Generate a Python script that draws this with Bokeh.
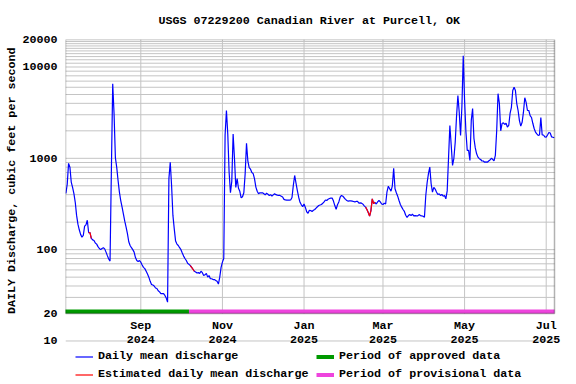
import numpy as np
import pandas as pd
from bokeh.plotting import figure
from bokeh.models import (Range1d, FixedTicker, CustomJSTickFormatter, BoxAnnotation,
                          Legend, LegendItem, ColumnDataSource, Title)
from bokeh.embed import file_html
from bokeh.resources import INLINE

# ---------------- data ----------------
TITLE = "USGS 07229200 Canadian River at Purcell, OK"
Y_LABEL = "DAILY Discharge, cubic feet per second"
START_DATE = "2024-07-07"   # first daily value

# daily mean discharge, cfs, one value per day from START_DATE
discharge = [
    412, 520, 880, 800, 550, 480, 410, 330, 237, 190,
    165, 147, 137, 143, 181, 187, 210, 154, 154, 133,
    128, 126, 118, 115, 108, 103, 100, 103, 105, 102,
    94, 86, 79, 75, 740, 6545, 3100, 1015, 795, 572,
    427, 345, 292, 245, 205, 176, 150, 122, 111, 105,
    100, 94, 82, 76, 74, 76, 73, 68, 64, 62,
    58, 54, 50, 45, 41.5, 41, 40, 38, 37.5, 35.5,
    34.5, 33, 33, 33, 31.5, 29.5, 26.6, 600, 906, 504,
    237, 169, 124, 115, 111, 105, 100, 92, 85, 80,
    76, 71, 69, 67, 64, 61, 58, 57, 55.5, 56,
    55, 58, 56, 52, 53, 55, 50, 52, 48, 48,
    47, 47, 46, 45, 42, 50, 64, 73, 80, 1800,
    3340, 1850, 705, 420, 560, 1850, 1000, 480, 600, 470,
    435, 370, 380, 420, 680, 1460, 940, 790, 760, 700,
    680, 596, 484, 436, 410, 420, 418, 420, 410, 398,
    415, 405, 392, 400, 385, 398, 410, 400, 395, 392,
    392, 385, 378, 355, 350, 348, 348, 348, 350, 372,
    505, 649, 535, 444, 375, 330, 310, 296, 316, 290,
    260, 250, 270, 268, 262, 270, 275, 285, 295, 304,
    308, 312, 322, 333, 350, 345, 357, 363, 367, 367,
    340, 304, 277, 310, 333, 375, 392, 385, 370, 355,
    345, 340, 342, 342, 340, 337, 333, 337, 337, 323,
    325, 323, 315, 302, 292, 275, 255, 233, 268, 360,
    320, 330, 316, 333, 345, 333, 316, 312, 322, 316,
    430, 495, 464, 437, 500, 780, 464, 420, 385, 345,
    312, 292, 275, 262, 238, 226, 236, 242, 236, 245,
    234, 236, 234, 234, 242, 236, 234, 232, 226, 392,
    540, 680, 800, 527, 427, 480, 460, 427, 402, 408,
    392, 402, 385, 392, 360, 440, 1000, 2290, 1400, 835,
    1000, 1500, 2900, 4880, 3200, 1780, 3700, 13300, 4300, 1950,
    1220, 1220, 950, 2600, 3500, 1650, 1300, 1120, 1030, 990,
    970, 935, 935, 906, 915, 906, 935, 960, 1000, 975,
    935, 1080, 2000, 5100, 4000, 2000, 2400, 2450, 2350, 2420,
    2200, 2290, 3100, 3620, 5530, 6010, 5530, 3980, 3340, 2590,
    2250, 2480, 3200, 4610, 4090, 3340, 3340, 2940, 2800, 2420,
    2120, 1940, 1850, 1780, 1800, 2800, 1800, 1800, 1720, 1700,
    1800, 1920, 1890, 1720, 1700, 1680,
]
# day indices (from START_DATE) whose values are estimated
estimated_days = [17, 18, 19, 93, 94, 95, 96, 224, 225, 226, 227, 228, 229, 230, 231]

approved_period = ("2024-07-06", "2024-10-07")
provisional_period = ("2024-10-07", "2025-07-07")

x_tick_dates = ["2024-09-01", "2024-11-01", "2025-01-01", "2025-03-01", "2025-05-01", "2025-07-01"]
y_label_ticks = [10, 20, 100, 1000, 10000, 20000]

# ---------------- style / layout ----------------
FONT = "Liberation Mono"
FS = "11.7px"
GRID = "#c4c4c4"
BAR_LEVEL = 21.0
Y_BOTTOM = 3.338     # frame continues below the chart box to hold the legend
Y_TOP = 20000
BOX_BOTTOM = 20

X_START = pd.Timestamp(START_DATE) - pd.Timedelta(hours=7)
BOX_RIGHT = pd.Timestamp("2025-07-07") + pd.Timedelta(hours=5)
X_END = X_START + (BOX_RIGHT - X_START) * (511.0 / 489.0)   # room right of box for tick labels

dates = pd.date_range(START_DATE, periods=len(discharge), freq="D")
q = np.array(discharge, dtype=float)
est = np.full(len(q), np.nan)
est[estimated_days] = q[estimated_days]
src = ColumnDataSource(dict(date=dates, q=q, est=est))

y_grid_values = [10]
for dec in (10, 100, 1000):
    for k in range(1, 10):
        v = k * dec
        if v > 20:
            y_grid_values.append(v)
y_grid_values += [k * 1000 for k in range(10, 20)]

p = figure(width=576, height=384, x_axis_type="datetime", y_axis_type="log",
           x_range=Range1d(X_START, X_END), y_range=Range1d(Y_BOTTOM, Y_TOP),
           output_backend="svg", toolbar_location=None,
           min_border_left=65, min_border_right=0, min_border_top=39, min_border_bottom=0)
p.outline_line_color = None
p.background_fill_color = "white"

# title
p.title.text = TITLE
p.title.align = "left"
p.title.offset = 93
p.title.text_font = FONT
p.title.text_font_size = FS
p.title.text_font_style = "bold"
p.title.text_color = "black"
if "standoff" in Title.properties():
    p.title.standoff = 23

# grids (drawn inside the chart box only)
p.xgrid.visible = False
p.ygrid.visible = False
n = len(y_grid_values)
p.segment(x0=[X_START] * n, y0=y_grid_values, x1=[BOX_RIGHT] * n, y1=y_grid_values,
          line_color=GRID, line_width=1)
tick_ts = [pd.Timestamp(d) for d in x_tick_dates]
p.segment(x0=tick_ts, y0=BOX_BOTTOM, x1=tick_ts, y1=Y_TOP, line_color=GRID, line_width=1)

# series
blue = p.line("date", "q", source=src, line_color="#0000ff", line_width=1.2)
red = p.line("date", "est", source=src, line_color="#ff0000", line_width=1.2)

green = p.line(x=[pd.Timestamp(approved_period[0]), pd.Timestamp(approved_period[1])],
               y=[BAR_LEVEL, BAR_LEVEL], line_color="#009900", line_width=4)
pink = p.line(x=[pd.Timestamp(provisional_period[0]), BOX_RIGHT],
              y=[BAR_LEVEL, BAR_LEVEL], line_color="#ee44dd", line_width=4)

# chart box (20 .. 20000)
p.add_layout(BoxAnnotation(bottom=BOX_BOTTOM, top=Y_TOP, right=BOX_RIGHT,
                           fill_color=None, fill_alpha=0,
                           line_color="black", line_width=1.5))

# y axis
ya = p.yaxis[0]
ya.ticker = FixedTicker(ticks=y_label_ticks)
ya.formatter = CustomJSTickFormatter(code="return Math.round(tick).toString();")
ya.axis_line_color = None
ya.major_tick_line_color = None
ya.minor_tick_line_color = None
ya.major_tick_out = 0
ya.major_tick_in = 0
ya.major_label_standoff = 8
ya.major_label_text_font = FONT
ya.major_label_text_font_size = FS
ya.major_label_text_font_style = "bold"
ya.major_label_text_color = "black"

ylab = Title(text=Y_LABEL, align="right", vertical_align="middle", offset=8,
             text_font=FONT, text_font_size=FS, text_font_style="bold", text_color="black")
if "standoff" in Title.properties():
    ylab.standoff = 0
p.add_layout(ylab, "left")

# x axis drawn along the 20 cfs line
xa = p.xaxis[0]
xa.fixed_location = BOX_BOTTOM
xa.ticker = FixedTicker(ticks=[t.value // 10**6 for t in tick_ts])
xa.formatter = CustomJSTickFormatter(code="""
const d = new Date(tick);
const m = ["Jan","Feb","Mar","Apr","May","Jun","Jul","Aug","Sep","Oct","Nov","Dec"][d.getUTCMonth()];
return m + "\\n" + d.getUTCFullYear();
""")
xa.axis_line_color = None
xa.major_tick_line_color = None
xa.minor_tick_line_color = None
xa.major_tick_out = 0
xa.major_tick_in = 0
xa.major_label_standoff = 6
xa.major_label_text_font = FONT
xa.major_label_text_font_size = FS
xa.major_label_text_font_style = "bold"
xa.major_label_text_color = "black"
xa.major_label_text_line_height = 0.98

# legends (two columns, inside the frame below the chart box)
def make_legend(items, loc):
    return Legend(items=items, location=loc, orientation="vertical",
                  padding=0, margin=0, spacing=4, glyph_width=18, glyph_height=13,
                  label_height=13, label_standoff=5,
                  border_line_color=None, background_fill_alpha=0,
                  label_text_font=FONT, label_text_font_size=FS,
                  label_text_font_style="bold", label_text_color="black")

leg1 = make_legend([
    LegendItem(label="Daily mean discharge", renderers=[blue]),
    LegendItem(label="Estimated daily mean discharge", renderers=[red]),
], (10, 3))
leg2 = make_legend([
    LegendItem(label="Period of approved data", renderers=[green]),
    LegendItem(label="Period of provisional data", renderers=[pink]),
], (251, 3))
p.add_layout(leg1)
p.add_layout(leg2)

open("out.html", "w").write(file_html(p, INLINE))
